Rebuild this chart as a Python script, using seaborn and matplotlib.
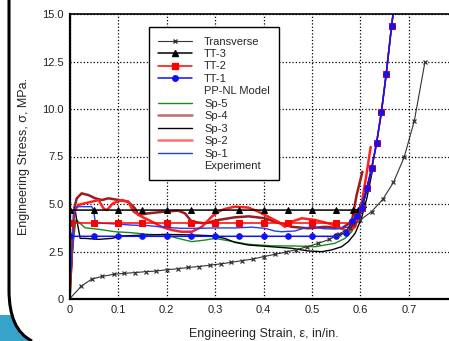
#!/usr/bin/env python3

import pandas as pd
import matplotlib.pyplot as plt
from matplotlib.lines import Line2D
from matplotlib.path import Path
from matplotlib.patches import PathPatch
import seaborn as sns

sns.set_style('white')
plt.rcParams['font.family'] = ['Liberation Sans', 'DejaVu Sans']

# transverse (PP-NL model)
tr_x = [0, 0.024, 0.046, 0.068, 0.091, 0.113, 0.135, 0.157, 0.179, 0.2, 0.223, 0.245,
        0.267, 0.29, 0.312, 0.334, 0.356, 0.378, 0.4, 0.424, 0.446, 0.468, 0.49, 0.513,
        0.536, 0.556, 0.578, 0.599, 0.623, 0.646, 0.668, 0.69, 0.711, 0.733]
tr_y = [0, 0.67, 1.05, 1.19, 1.3, 1.35, 1.39, 1.44, 1.47, 1.54, 1.59, 1.66,
        1.71, 1.78, 1.85, 1.93, 2.02, 2.1, 2.23, 2.35, 2.47, 2.6, 2.75, 2.93,
        3.14, 3.42, 3.75, 4.15, 4.6, 5.25, 6.14, 7.46, 9.38, 12.49]

# TT model curves
tt3_x = [0, 0.05, 0.1, 0.15, 0.2, 0.25, 0.3, 0.35, 0.4, 0.45, 0.5, 0.55, 0.585, 0.595,
         0.605, 0.613, 0.623, 0.633, 0.643, 0.653, 0.664, 0.672]
tt3_y = [4.68, 4.68, 4.68, 4.68, 4.68, 4.68, 4.68, 4.68, 4.68, 4.68, 4.68, 4.68, 4.68, 4.7,
         5.0, 5.82, 6.88, 8.19, 9.82, 11.84, 14.35, 16.0]
tt2_x = [0, 0.05, 0.1, 0.15, 0.2, 0.25, 0.3, 0.35, 0.4, 0.45, 0.5, 0.55, 0.583, 0.593,
         0.603, 0.613, 0.623, 0.633, 0.643, 0.653, 0.664, 0.672]
tt2_y = [4.0, 4.0, 4.0, 4.0, 4.0, 4.0, 4.0, 4.0, 4.0, 4.0, 4.0, 4.0, 4.0, 4.37,
         4.77, 5.82, 6.88, 8.19, 9.82, 11.84, 14.35, 16.0]
tt1_x = [0, 0.05, 0.1, 0.15, 0.2, 0.25, 0.3, 0.35, 0.4, 0.45, 0.5, 0.55, 0.57, 0.583, 0.593,
         0.603, 0.613, 0.623, 0.633, 0.643, 0.653, 0.664, 0.672]
tt1_y = [3.3, 3.3, 3.3, 3.3, 3.3, 3.3, 3.3, 3.3, 3.3, 3.3, 3.3, 3.3, 3.5, 4.1, 4.37,
         4.77, 5.82, 6.88, 8.19, 9.82, 11.84, 14.35, 16.0]

# experiments
sp5_x = [0, 0.006, 0.013, 0.018, 0.032, 0.06, 0.094, 0.128, 0.163, 0.197, 0.224, 0.252, 0.279,
         0.3, 0.32, 0.369, 0.417, 0.465, 0.506, 0.547, 0.568, 0.582, 0.595, 0.61, 0.625]
sp5_y = [0, 2.5, 4.16, 4.07, 3.75, 3.67, 3.54, 3.49, 3.4, 3.37, 3.19, 3.02, 3.1,
         3.19, 3.1, 2.88, 2.8, 2.79, 2.75, 2.93, 3.19, 3.54, 4.3, 5.4, 6.9]
sp4_x = [0, 0.005, 0.01, 0.015, 0.025, 0.039, 0.053, 0.067, 0.08, 0.101, 0.121, 0.135, 0.142,
         0.163, 0.197, 0.224, 0.238, 0.252, 0.279, 0.307, 0.341, 0.37, 0.403, 0.423, 0.458,
         0.492, 0.527, 0.561, 0.582, 0.592, 0.604]
sp4_y = [0, 2.5, 4.8, 5.3, 5.56, 5.47, 5.3, 5.21, 5.3, 5.21, 5.12, 4.77, 4.42,
         4.51, 4.6, 4.65, 4.51, 4.07, 3.98, 4.16, 4.3, 4.35, 4.25, 4.07, 3.8,
         3.72, 3.8, 3.72, 4.07, 5.47, 6.7]
sp3_x = [0, 0.006, 0.011, 0.014, 0.022, 0.032, 0.06, 0.087, 0.108, 0.163, 0.197, 0.252, 0.293,
         0.32, 0.341, 0.369, 0.417, 0.458, 0.492, 0.52, 0.54, 0.561, 0.575, 0.589, 0.602,
         0.613, 0.625]
sp3_y = [0, 2.5, 4.8, 4.3, 3.19, 3.19, 3.14, 3.19, 3.32, 3.37, 3.4, 3.37, 3.33,
         3.19, 2.98, 2.84, 2.75, 2.67, 2.53, 2.49, 2.58, 2.75, 3.02, 3.46, 4.25,
         5.3, 6.8]
sp2_x = [0, 0.005, 0.01, 0.018, 0.032, 0.046, 0.06, 0.07, 0.077, 0.09, 0.108, 0.121, 0.132,
         0.149, 0.17, 0.19, 0.211, 0.231, 0.252, 0.273, 0.293, 0.307, 0.32, 0.341, 0.369,
         0.389, 0.41, 0.43, 0.444, 0.458, 0.479, 0.506, 0.534, 0.554, 0.575, 0.589, 0.602,
         0.612, 0.621]
sp2_y = [0, 2.5, 4.6, 4.95, 5.04, 5.12, 5.21, 4.77, 4.68, 5.04, 5.21, 5.12, 4.6,
         4.33, 4.07, 3.8, 3.63, 3.54, 3.54, 3.8, 4.33, 4.6, 4.74, 4.86, 4.81,
         4.6, 4.33, 4.07, 3.8, 4.07, 4.25, 4.16, 3.98, 3.8, 3.54, 3.8, 4.95,
         6.5, 8.0]
sp1_x = [0, 0.005, 0.01, 0.018, 0.046, 0.05, 0.053, 0.06, 0.094, 0.128, 0.163, 0.197, 0.231,
         0.266, 0.3, 0.34, 0.376, 0.403, 0.423, 0.437, 0.465, 0.486, 0.5, 0.525, 0.547,
         0.575, 0.59, 0.6, 0.613, 0.627]
sp1_y = [0, 2.5, 4.77, 4.86, 4.86, 4.6, 4.07, 4.0, 3.95, 3.89, 3.86, 3.77, 3.72,
         3.72, 3.74, 3.74, 3.78, 3.72, 3.58, 3.54, 3.58, 3.75, 3.79, 3.7, 3.68,
         3.78, 4.2, 4.9, 5.8, 7.0]

x_ticks = [0, 0.1, 0.2, 0.3, 0.4, 0.5, 0.6, 0.7]
x_labels = ['0', '0.1', '0.2', '0.3', '0.4', '0.5', '0.6', '0.7']
y_ticks = [0, 2.5, 5.0, 7.5, 10.0, 12.5, 15.0]
y_labels = ['0', '2.5', '5.0', '7.5', '10.0', '12.5', '15.0']

W, H = 449, 341


def px(x, y):
    return (x / W, 1 - y / H)


def curve(ax, xs, ys, color, **kw):
    df = pd.DataFrame({'x': xs, 'y': ys})
    sns.lineplot(data=df, x='x', y='y', ax=ax, estimator=None, sort=False,
                 color=color, markeredgecolor=color, **kw)


def main():
    fig = plt.figure(figsize=(W / 100, H / 100), dpi=100)
    fig.patch.set_facecolor('white')

    # slide frame in the corner
    verts = [px(0, 315), px(12.3, 315), px(20, 334), px(32, 341), px(0, 341), px(0, 315)]
    fig.add_artist(PathPatch(Path(verts), transform=fig.transFigure,
                             facecolor='#36a4c9', edgecolor='none'))
    frame = Path([px(9, -5), px(9, 290), px(9, 330), px(32, 341)],
                 [Path.MOVETO, Path.LINETO, Path.CURVE3, Path.CURVE3])
    fig.add_artist(PathPatch(frame, transform=fig.transFigure, facecolor='none',
                             edgecolor='black', linewidth=2.2))

    ax = fig.add_axes([69.5 / W, 1 - 299 / H, 0.8 * 485 / W, 285 / H])

    curve(ax, sp5_x, sp5_y, '#1a8c1a', linewidth=1.0)
    curve(ax, sp4_x, sp4_y, '#9b1c1c', linewidth=1.8)
    curve(ax, sp3_x, sp3_y, 'black', linewidth=1.0)
    curve(ax, sp2_x, sp2_y, '#ff2020', linewidth=1.8)
    curve(ax, sp1_x, sp1_y, '#1f3cff', linewidth=1.0)

    curve(ax, tt3_x, tt3_y, 'black', linewidth=1.1, marker='^', markersize=4.5)
    curve(ax, tt2_x, tt2_y, 'red', linewidth=1.1, marker='s', markersize=4)
    curve(ax, tt1_x, tt1_y, '#1010ff', linewidth=1.1, marker='o', markersize=4)
    curve(ax, tr_x, tr_y, '#333333', linewidth=0.8, marker='x', markersize=3.5,
          markevery=slice(1, None), markeredgewidth=0.9)

    ax.set_xlim(0, 0.8)
    ax.set_ylim(0, 15)
    ax.set_xticks(x_ticks)
    ax.set_xticklabels(x_labels)
    ax.set_yticks(y_ticks)
    ax.set_yticklabels(y_labels)
    ax.tick_params(length=0, labelsize=8, colors='#222222')
    ax.tick_params(axis='y', pad=4)
    ax.tick_params(axis='x', pad=4)
    ax.grid(True, color='black', linestyle=':', linewidth=0.9)

    for side in ['left', 'bottom']:
        ax.spines[side].set_linewidth(1.6)
        ax.spines[side].set_color('black')
    ax.spines['top'].set_linewidth(1.2)
    ax.spines['top'].set_color('black')

    ax.set_xlabel('Engineering Strain, \u03b5, in/in.', fontsize=9)
    ax.set_ylabel('Engineering Stress, \u03c3, MPa.', fontsize=9)
    ax.xaxis.set_label_coords(0.5, -0.1)
    ax.yaxis.set_label_coords(-0.103, 0.5)

    blank = Line2D([], [], linestyle='none')
    handles = [
        Line2D([], [], color='#333333', linewidth=0.8, marker='x', markersize=3.5),
        Line2D([], [], color='black', linewidth=1.1, marker='^', markersize=4.5),
        Line2D([], [], color='red', linewidth=1.1, marker='s', markersize=4),
        Line2D([], [], color='#1010ff', linewidth=1.1, marker='o', markersize=4),
        blank,
        Line2D([], [], color='#1a8c1a', linewidth=1.0),
        Line2D([], [], color='#b87070', linewidth=1.8),
        Line2D([], [], color='black', linewidth=1.0),
        Line2D([], [], color='#ff7070', linewidth=1.8),
        Line2D([], [], color='#1f3cff', linewidth=1.0),
        blank,
    ]
    labels = ['Transverse', 'TT-3', 'TT-2', 'TT-1', 'PP-NL Model', 'Sp-5', 'Sp-4',
              'Sp-3', 'Sp-2', 'Sp-1', 'Experiment']
    for h in handles[:4]:
        h.set_markevery([0, 1])
    leg = ax.legend(handles, labels, loc='upper left', bbox_to_anchor=(0.205, 0.954),
                    borderaxespad=0, fontsize=8, frameon=True, fancybox=False,
                    edgecolor='black', framealpha=1, handlelength=3.0,
                    handletextpad=1.1, labelspacing=0.22, borderpad=0.85)
    leg.get_frame().set_linewidth(1.0)

    fig.savefig('out.png', dpi=100)


if __name__ == '__main__':
    main()
